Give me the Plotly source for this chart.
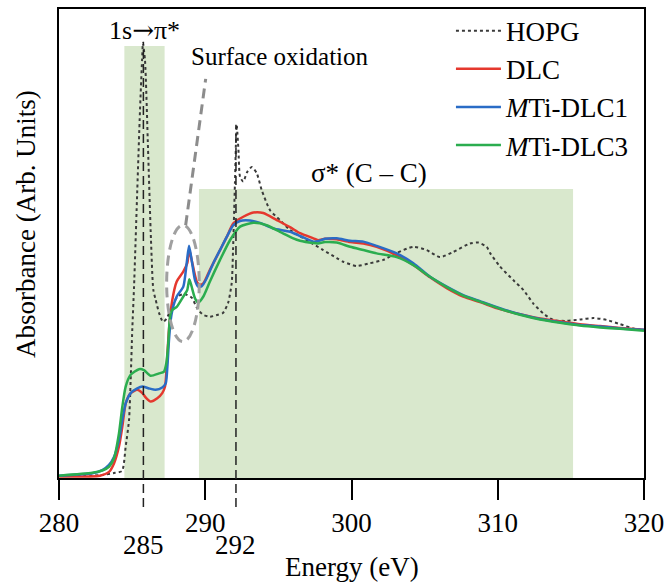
import plotly.graph_objects as go

# ---------------- data ----------------
hopg_x = [280.0, 282.80, 283.83, 284.31, 284.56, 284.79, 284.90, 285.01, 285.13, 285.33, 285.54, 285.68,
          285.74, 285.88, 286.09, 286.29, 286.45, 286.61, 286.84, 287.11, 287.38, 287.73, 288.14, 288.62,
          289.09, 289.44, 289.85, 290.32, 290.87, 291.21, 291.56, 291.81, 291.90, 292.03, 292.15, 292.27,
          292.38, 292.60, 292.86, 293.18, 293.52, 293.86, 294.43, 295.11, 295.79, 296.94, 298.07, 298.99,
          299.44, 300.36, 301.26, 302.17, 303.09, 304.23, 305.14, 306.05, 306.96, 308.10, 308.65, 309.24,
          309.47, 310.15, 311.06, 311.75, 312.43, 313.11, 313.80, 314.71, 315.62, 316.53, 317.45, 318.36,
          319.27, 320.0]
hopg_y = [0.004, 0.006, 0.011, 0.015, 0.067, 0.124, 0.209, 0.316, 0.407, 0.593, 0.785, 0.891,
          0.927, 0.891, 0.699, 0.507, 0.401, 0.380, 0.352, 0.333, 0.341, 0.367, 0.388, 0.392,
          0.384, 0.362, 0.348, 0.344, 0.348, 0.352, 0.373, 0.416, 0.486, 0.629, 0.753, 0.699,
          0.642, 0.632, 0.652, 0.663, 0.650, 0.614, 0.571, 0.550, 0.529, 0.507, 0.486, 0.469,
          0.461, 0.452, 0.458, 0.465, 0.480, 0.493, 0.486, 0.471, 0.482, 0.500, 0.502, 0.493,
          0.480, 0.451, 0.422, 0.401, 0.372, 0.351, 0.337, 0.335, 0.338, 0.341, 0.337, 0.328,
          0.319, 0.316]

dlc_x = [280.0, 282.80, 283.42, 283.76, 284.10, 284.33, 284.56, 284.90, 285.35, 285.70, 285.95, 286.27,
         286.72, 287.06, 287.25, 287.36, 287.52, 287.75, 288.05, 288.50, 288.77, 288.91, 289.07, 289.42,
         289.64, 289.87, 290.32, 290.78, 291.47, 291.92, 292.60, 293.29, 293.97, 294.89, 295.79, 296.48,
         297.39, 297.71, 298.19, 298.99, 299.90, 300.81, 301.72, 303.09, 304.23, 305.37, 306.51, 307.64,
         308.79, 310.15, 311.52, 312.89, 314.26, 315.62, 316.99, 318.36, 320.0]
dlc_y = [0.003, 0.005, 0.013, 0.031, 0.067, 0.109, 0.159, 0.181, 0.188, 0.181, 0.171, 0.163,
         0.170, 0.181, 0.195, 0.237, 0.316, 0.380, 0.419, 0.440, 0.458, 0.486, 0.465, 0.419,
         0.412, 0.415, 0.444, 0.472, 0.514, 0.543, 0.557, 0.566, 0.565, 0.550, 0.535, 0.522,
         0.511, 0.507, 0.510, 0.509, 0.503, 0.500, 0.493, 0.475, 0.454, 0.428, 0.405, 0.387,
         0.375, 0.360, 0.349, 0.340, 0.334, 0.328, 0.324, 0.320, 0.316]

dlc1_x = [280.0, 282.28, 282.96, 283.42, 283.76, 284.10, 284.33, 284.56, 284.90, 285.35, 285.70, 286.15,
          286.61, 287.06, 287.30, 287.41, 287.52, 287.64, 287.75, 288.05, 288.50, 288.73, 288.89, 289.07,
          289.30, 289.52, 289.76, 290.10, 290.55, 291.01, 291.47, 291.92, 292.38, 293.06, 293.74, 294.65,
          295.79, 296.48, 297.39, 297.71, 298.19, 298.99, 299.90, 300.81, 301.72, 303.09, 304.23, 305.37,
          306.51, 307.64, 308.79, 310.15, 311.52, 312.89, 314.26, 315.62, 316.99, 318.36, 320.0]
dlc1_y = [0.005, 0.010, 0.017, 0.028, 0.045, 0.081, 0.124, 0.159, 0.181, 0.191, 0.195, 0.191,
          0.188, 0.193, 0.202, 0.237, 0.294, 0.337, 0.358, 0.387, 0.408, 0.458, 0.495, 0.465,
          0.422, 0.408, 0.409, 0.426, 0.458, 0.486, 0.514, 0.539, 0.548, 0.549, 0.544, 0.532,
          0.525, 0.516, 0.504, 0.505, 0.510, 0.511, 0.506, 0.504, 0.495, 0.479, 0.458, 0.429,
          0.408, 0.390, 0.377, 0.362, 0.349, 0.339, 0.332, 0.326, 0.323, 0.319, 0.316]

dlc3_x = [280.0, 282.28, 282.96, 283.42, 283.76, 284.10, 284.33, 284.56, 284.90, 285.47, 285.81, 286.27,
          286.84, 287.18, 287.34, 287.47, 287.59, 287.73, 288.05, 288.50, 288.77, 288.91, 289.07, 289.30,
          289.52, 289.87, 290.32, 291.01, 291.69, 292.38, 293.29, 294.20, 295.11, 296.02, 296.48, 297.39,
          297.71, 298.19, 298.99, 299.90, 300.81, 301.72, 303.09, 304.23, 305.37, 306.51, 307.64, 308.79,
          310.15, 311.52, 312.89, 314.26, 315.62, 316.99, 318.36, 320.0]
dlc3_y = [0.005, 0.011, 0.016, 0.024, 0.042, 0.095, 0.152, 0.195, 0.220, 0.232, 0.230, 0.218,
          0.223, 0.227, 0.245, 0.287, 0.344, 0.358, 0.365, 0.387, 0.401, 0.424, 0.408, 0.383,
          0.374, 0.387, 0.419, 0.465, 0.507, 0.536, 0.544, 0.539, 0.525, 0.511, 0.506, 0.501,
          0.500, 0.503, 0.502, 0.493, 0.486, 0.479, 0.471, 0.454, 0.429, 0.407, 0.389, 0.376,
          0.361, 0.348, 0.338, 0.331, 0.325, 0.321, 0.318, 0.314]

x_ticks = [280, 290, 300, 310, 320]
marker_lines = [285.77, 292.1]
marker_labels = ["285", "292"]
marker_tops = [0.93, 0.753]
band_pi = [284.47, 287.22, 0.921]
band_sigma = [289.57, 315.15, 0.616]
oxid_ellipse = [287.36, 289.59, 0.291, 0.539]
oxid_pointer = [288.66, 0.539, 290.03, 0.851]

FONT = "Liberation Serif"

fig = go.Figure()
fig.add_trace(go.Scatter(x=hopg_x, y=hopg_y, name="HOPG", mode="lines",
                         line=dict(color="#3a3a3a", width=2, dash="dot", shape="spline", smoothing=0.6)))
fig.add_trace(go.Scatter(x=dlc_x, y=dlc_y, name="DLC", mode="lines",
                         line=dict(color="#e5382e", width=2.5, shape="spline", smoothing=0.6)))
fig.add_trace(go.Scatter(x=dlc1_x, y=dlc1_y, name="<i>M</i>Ti-DLC1", mode="lines",
                         line=dict(color="#2a6cc6", width=2.5, shape="spline", smoothing=0.6)))
fig.add_trace(go.Scatter(x=dlc3_x, y=dlc3_y, name="<i>M</i>Ti-DLC3", mode="lines",
                         line=dict(color="#2bad4f", width=2.5, shape="spline", smoothing=0.6)))

shapes = []
for b in (band_pi, band_sigma):
    shapes.append(dict(type="rect", xref="x", yref="y", x0=b[0], x1=b[1], y0=0, y1=b[2],
                       fillcolor="#d9e8cd", line=dict(width=0), layer="below"))
for xv, top in zip(marker_lines, marker_tops):
    shapes.append(dict(type="line", xref="x", yref="paper", x0=xv, x1=xv, y0=-0.062, y1=top,
                       line=dict(color="#222222", width=1.5, dash="9px,5px")))
shapes.append(dict(type="circle", xref="x", yref="y", x0=oxid_ellipse[0], x1=oxid_ellipse[1],
                   y0=oxid_ellipse[2], y1=oxid_ellipse[3],
                   line=dict(color="#a0a0a0", width=3, dash="10px,6px")))
shapes.append(dict(type="line", xref="x", yref="y", x0=oxid_pointer[0], y0=oxid_pointer[1],
                   x1=oxid_pointer[2], y1=oxid_pointer[3],
                   line=dict(color="#8c8c8c", width=3, dash="10px,6px")))

annotations = []
for xv, lab in zip(marker_lines, marker_labels):
    annotations.append(dict(x=xv, y=-0.143, xref="x", yref="paper", text=lab, showarrow=False,
                            xanchor="center", yanchor="middle",
                            font=dict(family=FONT, size=27, color="black")))
annotations += [
    dict(x=285.85, y=0.955, xref="x", yref="y",
         text="1s<span style='font-family:DejaVu Serif'>→</span>π*", showarrow=False,
         xanchor="center", yanchor="middle",
         font=dict(family=FONT, size=26, color="black")),
    dict(x=288.9, y=0.898, xref="x", yref="y", text="Surface oxidation", showarrow=False,
         xanchor="left", yanchor="middle",
         font=dict(family=FONT, size=25, color="black")),
    dict(x=301.2, y=0.651, xref="x", yref="y", text="σ* (C – C)", showarrow=False,
         xanchor="center", yanchor="middle",
         font=dict(family=FONT, size=27, color="black")),
    dict(x=0.5, y=-0.19, xref="paper", yref="paper", text="Energy (eV)", showarrow=False,
         xanchor="center", yanchor="middle", font=dict(family=FONT, size=27, color="black")),
    dict(x=-0.056, y=0.542, xref="paper", yref="paper", text="Absorbance (Arb. Units)", showarrow=False,
         xanchor="center", yanchor="middle",
         textangle=-90, font=dict(family=FONT, size=27, color="black")),
]

fig.update_layout(
    width=666, height=586,
    margin=dict(l=59, r=22, t=9, b=108, autoexpand=False),
    plot_bgcolor="white", paper_bgcolor="white",
    font=dict(family=FONT, size=27, color="black"),
    shapes=shapes, annotations=annotations,
    showlegend=True,
    legend=dict(x=0.670, y=1.005, xanchor="left", yanchor="top", bgcolor="rgba(0,0,0,0)",
                font=dict(family=FONT, size=27, color="black"), itemwidth=45, tracegroupgap=0),
)
fig.update_xaxes(range=[280, 320], tickmode="array", tickvals=x_ticks, ticks="outside", ticklen=20,
                 tickwidth=2, tickcolor="black", showline=True, linecolor="black", linewidth=2,
                 mirror=True, showgrid=False, zeroline=False, automargin=False,
                 tickfont=dict(family=FONT, size=27, color="black"))
fig.update_yaxes(range=[0, 1], showticklabels=False, ticks="", showline=True, linecolor="black",
                 linewidth=2, mirror=True, showgrid=False, zeroline=False, automargin=False)

fig.write_html("out.html")
